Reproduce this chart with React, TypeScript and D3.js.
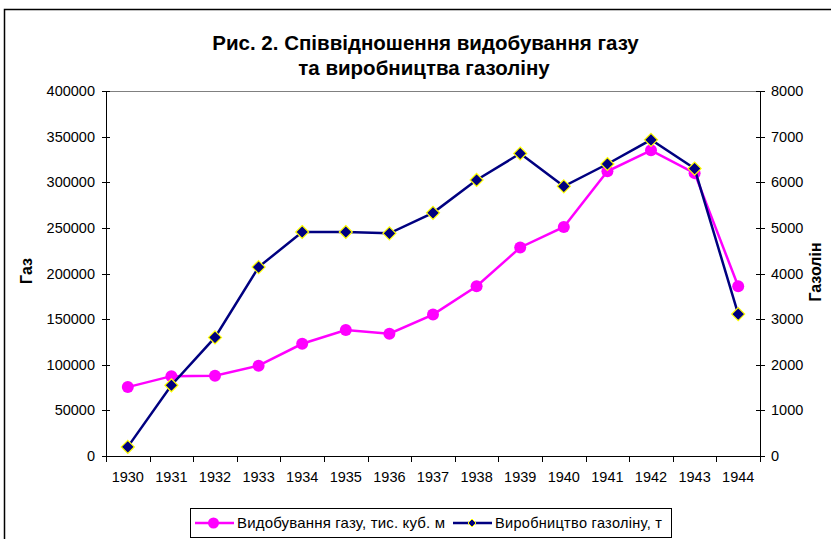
import * as d3 from 'd3';
import React from 'react';

const years = ['1930', '1931', '1932', '1933', '1934', '1935', '1936', '1937', '1938', '1939', '1940', '1941', '1942', '1943', '1944'];
// видобування газу, тис. куб. м (left axis)
const gas = [75500, 87500, 88000, 99000, 123000, 138000, 134000, 155000, 186000, 228500, 251000, 312000, 335000, 310000, 186000];
// виробництво газоліну, т (right axis)
const gasoline = [200, 1550, 2600, 4140, 4910, 4910, 4880, 5330, 6050, 6630, 5910, 6400, 6930, 6300, 3110];
const leftTicks = [0, 50000, 100000, 150000, 200000, 250000, 300000, 350000, 400000];
const rightTicks = [0, 1000, 2000, 3000, 4000, 5000, 6000, 7000, 8000];

const W = 831;
const H = 539;
const plot = { left: 106, right: 760, top: 91, bottom: 456 };
const font = 'Liberation Sans, Arial, sans-serif';

function App() {
    const x = d3.scaleBand().domain(years).range([plot.left, plot.right]);
    const yL = d3.scaleLinear().domain([0, 400000]).range([plot.bottom, plot.top]);
    const yR = d3.scaleLinear().domain([0, 8000]).range([plot.bottom, plot.top]);
    const cx = (y: string) => (x(y) as number) + x.bandwidth() / 2;

    const gasLine = d3.line<number>().x((d, i) => cx(years[i])).y(d => yL(d));
    const oilLine = d3.line<number>().x((d, i) => cx(years[i])).y(d => yR(d));
    const diamond = (px: number, py: number, r: number) =>
        `M${px},${py - r}L${px + r},${py}L${px},${py + r}L${px - r},${py}Z`;

    const boundaries = years.map(y => x(y) as number).concat([plot.right]);

    return (
        <svg width={W} height={H} style={{ position: 'absolute', left: 0, top: 0, background: '#fff' }}>
            <rect x={4.5} y={9.5} width={900} height={600} fill="#fff" stroke="#000" strokeWidth={1.5} />
            <text x={425.5} y={50} textAnchor="middle" fontFamily={font} fontWeight="bold" fontSize={20.5}>
                Рис. 2. Співвідношення видобування газу
            </text>
            <text x={424} y={75} textAnchor="middle" fontFamily={font} fontWeight="bold" fontSize={20.5}>
                та виробництва газоліну
            </text>

            {/* plot frame */}
            <line x1={plot.left} x2={plot.right} y1={plot.top + 0.5} y2={plot.top + 0.5} stroke="#808080" />
            <line x1={plot.left + 0.5} x2={plot.left + 0.5} y1={plot.top} y2={plot.bottom} stroke="#000" />
            <line x1={plot.right + 0.5} x2={plot.right + 0.5} y1={plot.top} y2={plot.bottom} stroke="#000" />
            <line x1={plot.left} x2={plot.right + 1} y1={plot.bottom + 0.5} y2={plot.bottom + 0.5} stroke="#000" />

            {leftTicks.map(t => (
                <g key={'l' + t}>
                    <line x1={plot.left - 4} x2={plot.left + 4} y1={Math.round(yL(t)) + 0.5} y2={Math.round(yL(t)) + 0.5} stroke="#000" />
                    <text x={95} y={yL(t) + 5} textAnchor="end" fontFamily={font} fontSize={14.5}>{t}</text>
                </g>
            ))}
            {rightTicks.map(t => (
                <g key={'r' + t}>
                    <line x1={plot.right - 4} x2={plot.right + 5} y1={Math.round(yR(t)) + 0.5} y2={Math.round(yR(t)) + 0.5} stroke="#000" />
                    <text x={771} y={yR(t) + 5} textAnchor="start" fontFamily={font} fontSize={14.5}>{t}</text>
                </g>
            ))}
            {boundaries.map((b, i) => (
                <line key={'b' + i} x1={Math.round(b) + 0.5} x2={Math.round(b) + 0.5} y1={plot.bottom} y2={plot.bottom + 6} stroke="#000" />
            ))}
            {years.map(y => (
                <text key={'x' + y} x={cx(y)} y={482} textAnchor="middle" fontFamily={font} fontSize={14.5}>{y}</text>
            ))}

            <text transform="translate(32,271) rotate(-90)" textAnchor="middle" fontFamily={font} fontWeight="bold" fontSize={16}>Газ</text>
            <text transform="translate(821,272) rotate(-90)" textAnchor="middle" fontFamily={font} fontWeight="bold" fontSize={16}>Газолін</text>

            <path d={gasLine(gas) as string} fill="none" stroke="#ff00ff" strokeWidth={2.5} />
            {gas.map((v, i) => (
                <circle key={'g' + i} cx={cx(years[i])} cy={yL(v)} r={6} fill="#ff00ff" />
            ))}
            <path d={oilLine(gasoline) as string} fill="none" stroke="#000080" strokeWidth={2.5} />
            {gasoline.map((v, i) => (
                <path key={'o' + i} d={diamond(cx(years[i]), yR(v), 6.5)} fill="#000080" stroke="#ffff00" strokeWidth={1.2} />
            ))}

            {/* legend */}
            <rect x={190.5} y={508.5} width={481} height={29} fill="#fff" stroke="#000" />
            <line x1={195} x2={234} y1={523} y2={523} stroke="#ff00ff" strokeWidth={2.5} />
            <circle cx={213.5} cy={523} r={5.5} fill="#ff00ff" />
            <text x={237} y={528} fontFamily={font} fontSize={15} textLength={208} lengthAdjust="spacing">Видобування газу, тис. куб. м</text>
            <line x1={453} x2={492} y1={523} y2={523} stroke="#000080" strokeWidth={2.5} />
            <path d={diamond(472, 523, 4)} fill="#000080" stroke="#ffff00" strokeWidth={1} />
            <text x={495} y={528} fontFamily={font} fontSize={14.5} textLength={167} lengthAdjust="spacing">Виробництво газоліну, т</text>
        </svg>
    );
}

export default App;
